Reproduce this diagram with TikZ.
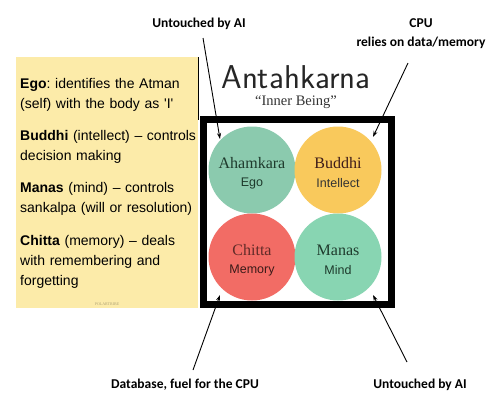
\documentclass[tikz,border=0pt]{standalone}
\usepackage{fontspec}
\setmainfont{Liberation Serif}
\newfontfamily\arialf{Liberation Sans}
\newfontfamily\calib{Carlito}
\usetikzlibrary{arrows.meta}
\definecolor{panel}{HTML}{FCEBA9}
\definecolor{cteal}{HTML}{8BCAAE}
\definecolor{cyel}{HTML}{F9C95C}
\definecolor{cred}{HTML}{F26C65}
\definecolor{cgreen}{HTML}{88D5B2}
\definecolor{dtext}{HTML}{1E3A2C}
\frenchspacing
\tikzset{
  lbl/.style={font=\calib\bfseries\fontsize{13.5}{16}\selectfont, align=center, inner sep=0pt},
  para/.style={font=\arialf\fontsize{14}{20}\selectfont, align=left, anchor=north west, inner sep=0pt, text width=178pt},
  petal/.style={circle, minimum size=87pt, inner sep=0pt, draw=none},
  ptitle/.style={font=\fontsize{16}{18}\selectfont, text=dtext},
  psub/.style={font=\arialf\fontsize{12.5}{14}\selectfont, text=dtext},
  arr/.style={-{Stealth[length=6pt,width=4pt]}, line width=0.9pt}
}
\begin{document}
\begin{tikzpicture}[x=1pt,y=-1pt]
\useasboundingbox (0,0) rectangle (500,408);
\fill[white] (0,0) rectangle (500,408);
% yellow panel
\fill[panel] (16,57) rectangle (198,308);
\node[para] (ego) at (20,78) {\textbf{Ego}: identifies the Atman\\(self) with the body as 'I'};
\node[para] (bud) at (20,130) {\textbf{Buddhi} (intellect) – controls\\decision making};
\node[para] (man) at (20,182) {\textbf{Manas} (mind) – controls\\sankalpa (will or resolution)};
\node[para] (chi) at (20,235) {\textbf{Chitta} (memory) – deals\\with remembering and\\forgetting};
\node[font=\fontsize{4}{5}\selectfont, text=black!30!panel] (wm) at (107,304) {POLARTRIBE};
% white box left border
\draw[line width=1pt] (198.5,57) -- (198.5,120);
% title
\node[font=\sffamily\fontsize{33}{35}\selectfont, text=black!85, inner sep=0pt] (title) at (296,77) {Antahkarna};
\node[font=\fontsize{14.5}{16}\selectfont, text=black!80, inner sep=0pt] (sub) at (296,102) {``Inner Being''};
% frame
\draw[line width=7pt, fill=white] (203,119) rectangle (391,304);
% circles
\node[petal, fill=cteal] (aham) at (252,170) {};
\node[petal, fill=cyel] (budc) at (338,170) {};
\node[petal, fill=cred] (chic) at (252,257) {};
\node[petal, fill=cgreen] (manc) at (338,257) {};
\node[ptitle] (ahamt) at (252,163) {Ahamkara};
\node[psub] (ahams) at (252,183) {Ego};
\node[ptitle, text=black!75!cred] (budt) at (338,163) {Buddhi};
\node[psub, text=black!80] (buds) at (338,183) {Intellect};
\node[ptitle, text=black!60!cred] (chit) at (252,250) {Chitta};
\node[psub, text=black!75!cred] (chis) at (252,270) {Memory};
\node[ptitle] (mant) at (338,250) {Manas};
\node[psub] (mans) at (338,270) {Mind};
% labels
\node[lbl] (l1) at (199,24) {Untouched by AI};
\node[lbl] (l2) at (421,34) {CPU\\[3pt]relies on data/memory};
\node[lbl] (l3) at (185,385) {Database, fuel for the CPU};
\node[lbl] (l4) at (420,385) {Untouched by AI};
\coordinate (e1) at (220,139);
\coordinate (e2) at (373,137);
\coordinate (e3) at (220,295);
\coordinate (e4) at (373,295);
\coordinate (s1) at (203,38);
\coordinate (s2) at (408,63);
\coordinate (s3) at (193,370);
\coordinate (s4) at (407,362);
\draw[arr] (s1) -- (e1);
\draw[arr] (s2) -- (e2);
\draw[arr] (s3) -- (e3);
\draw[arr] (s4) -- (e4);
\end{tikzpicture}
\end{document}
